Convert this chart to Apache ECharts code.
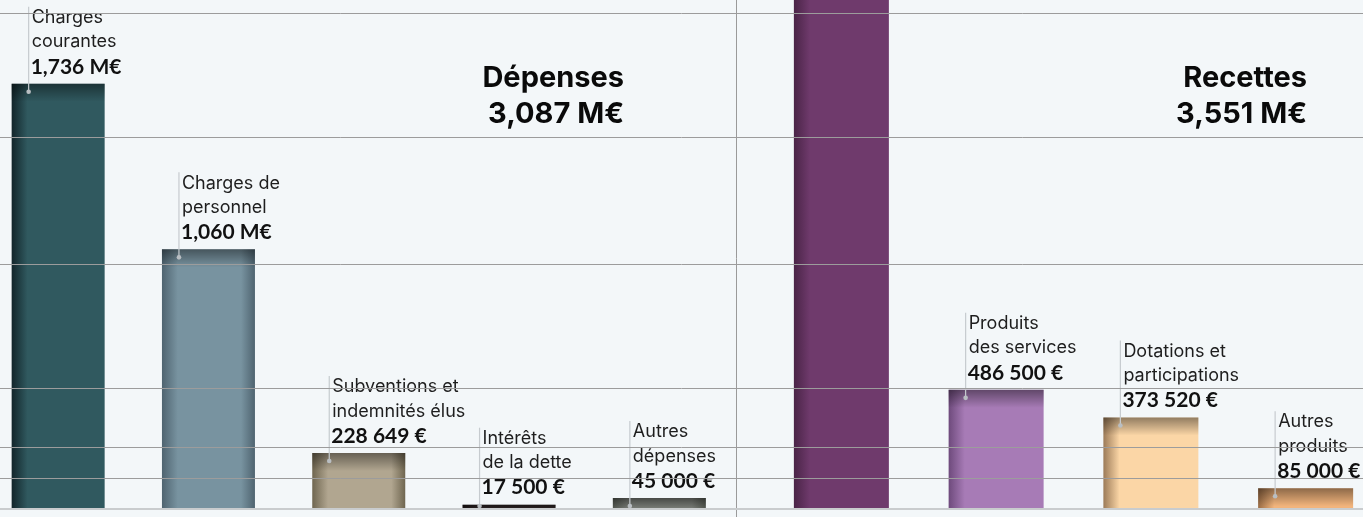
<!DOCTYPE html>
<html>
<head>
<meta charset="utf-8">
<script src="https://cdn.jsdelivr.net/npm/echarts@6/dist/echarts.min.js"></script>
<style>
html,body{margin:0;padding:0;background:#f3f7f9;}
#chart{width:1363px;height:517px;}
</style>
</head>
<body>
<div id="chart"></div>
<script>
// ---- data ----
const leftTitle = 'Dépenses';
const rightTitle = 'Recettes';
const leftCategories = ['Charges\ncourantes', 'Charges de\npersonnel', 'Subventions et\nindemnités élus', 'Intérêts\nde la dette', 'Autres\ndépenses'];
const leftValues = [1736000, 1060000, 228649, 17500, 45000];
const rightCategories = ['Impôts et\ntaxes', 'Produits\ndes services', 'Dotations et\nparticipations', 'Autres\nproduits'];
const rightValues = [2605980, 486500, 373520, 85000];
const rightTotal = 3551000;
const gridValues = [126000, 253000, 494000, 1000000, 1518000, 2024000];
const axisMax = 2078000;

// ---- styles ----
const leftBase = ['#30595f', '#7893a0', '#b1a690', '#2b2323', '#7b7f79'];
const leftEdge = ['#12252a', '#4f6470', '#6f6650', '#1a1414', '#555a52'];
const leftRightShade = [false, true, true, false, true];
const rightBase = ['#6f3a6c', '#a77bb6', '#fbd6a6', '#f2b47c'];
const rightEdge = ['#4a2447', '#6e4a7c', '#9c7b58', '#9a6c45'];
const rightRightShade = [false, false, false, false];

function fmt(v) {
  if (v >= 1e6) return (v / 1e6).toFixed(3).replace('.', ',') + ' M€';
  return String(Math.round(v)).replace(/\B(?=(\d{3})+(?!\d))/g, ' ') + ' €';
}
const leftTotal = leftValues.reduce((a, b) => a + b, 0);

function barData(values, base, edge, rshade) {
  return values.map((v, i) => {
    const stops = [{offset: 0, color: edge[i]}, {offset: 0.17, color: base[i]}];
    if (rshade[i]) {
      stops.push({offset: 0.85, color: base[i]});
      stops.push({offset: 1, color: edge[i]});
    } else {
      stops.push({offset: 1, color: base[i]});
    }
    return {value: v, itemStyle: {color: new echarts.graphic.LinearGradient(0, 0, 1, 0, stops)}};
  });
}

const LEFT_BW = 93, RIGHT_BW = 95;

function labelRender(cats, barW) {
  return function (params, api) {
    const v = api.value(1);
    if (v > axisMax) return {type: 'group', children: []};
    const p = api.coord([api.value(0), v]);
    const x = p[0] - barW / 2 + 17;
    const top = p[1];
    return {
      type: 'group',
      children: [
        {type: 'text', x: x + 3, y: top - 29.5, silent: true,
          style: {text: cats[params.dataIndex], fontFamily: 'Inter', fontSize: 18, fontWeight: 400,
            fill: '#1e1e1e', verticalAlign: 'bottom', align: 'left', lineHeight: 24.5}},
        {type: 'text', x: x + 2, y: top - 17, silent: true,
          style: {text: fmt(v), fontFamily: 'Lato', fontSize: 21, fontWeight: 700,
            fill: '#111', verticalAlign: 'middle', align: 'left'}}
      ]
    };
  };
}

function decorRender(barW) {
  return function (params, api) {
    const v = api.value(1);
    const p = api.coord([api.value(0), v]);
    const b = api.coord([api.value(0), 0]);
    const left = p[0] - barW / 2;
    const top = p[1];
    const h = b[1] - top;
    const children = [{
      type: 'rect', silent: true,
      shape: {x: left, y: top, width: barW, height: Math.min(18, h)},
      style: {fill: new echarts.graphic.LinearGradient(0, 0, 0, 1, [
        {offset: 0, color: 'rgba(0,0,0,0.42)'}, {offset: 1, color: 'rgba(0,0,0,0)'}])}
    }];
    if (v <= axisMax) {
      const x = left + 17;
      const dotY = Math.min(top + 8, b[1] - 3);
      children.push({type: 'line', silent: true,
        shape: {x1: x, y1: top - 77, x2: x, y2: dotY},
        style: {stroke: '#c6cbcf', lineWidth: 1.2}});
      children.push({type: 'circle', silent: true,
        shape: {cx: x, cy: dotY, r: 2.3},
        style: {fill: '#b9bec2'}});
    }
    return {type: 'group', children: children};
  };
}

const chart = echarts.init(document.getElementById('chart'), null, {renderer: 'canvas'});
const yAxisBase = {type: 'value', min: 0, max: axisMax, show: false, splitLine: {show: false}};

chart.setOption({
  backgroundColor: '#f3f7f9',
  animation: false,
  grid: [
    {left: 0, right: 0, top: 0, bottom: 8, outerBoundsMode: 'none'},
    {left: -17, width: 751.5, top: 0, bottom: 8, outerBoundsMode: 'none', containLabel: false},
    {left: 764, width: 619, top: 0, bottom: 8, outerBoundsMode: 'none', containLabel: false}
  ],
  xAxis: [
    {gridIndex: 0, type: 'value', min: 0, max: 1, show: false},
    {gridIndex: 1, type: 'category', data: leftCategories, show: false},
    {gridIndex: 2, type: 'category', data: rightCategories, show: false}
  ],
  yAxis: [
    Object.assign({gridIndex: 0}, yAxisBase),
    Object.assign({gridIndex: 1}, yAxisBase),
    Object.assign({gridIndex: 2}, yAxisBase)
  ],
  graphic: [
    {type: 'line', silent: true, z: 5, shape: {x1: 736.5, y1: 0, x2: 736.5, y2: 517},
      style: {stroke: '#9a9a9a', lineWidth: 1}},
    {type: 'text', silent: true, z: 5, x: 624, y: 96,
      style: {text: leftTitle + '\n' + fmt(leftTotal), fontFamily: 'Inter', fontSize: 29, fontWeight: 700,
        fill: '#0a0a0a', align: 'right', verticalAlign: 'middle', lineHeight: 36}},
    {type: 'text', silent: true, z: 5, x: 1307, y: 96,
      style: {text: rightTitle + '\n' + fmt(rightTotal), fontFamily: 'Inter', fontSize: 29, fontWeight: 700,
        fill: '#0a0a0a', align: 'right', verticalAlign: 'middle', lineHeight: 36}}
  ],
  series: [
    {type: 'line', xAxisIndex: 0, yAxisIndex: 0, z: 2, data: [[0, 0]], showSymbol: false, silent: true,
      lineStyle: {opacity: 0},
      markLine: {silent: true, symbol: 'none', label: {show: false}, animation: false,
        lineStyle: {color: '#9c9c9c', width: 1, type: 'solid'},
        data: gridValues.map(v => ({yAxis: v})).concat([{yAxis: 0, lineStyle: {color: '#c9ccce', width: 2, type: 'solid'}}])}},
    {type: 'custom', xAxisIndex: 1, yAxisIndex: 1, z: 1, renderItem: labelRender(leftCategories, LEFT_BW),
      data: leftValues.map((v, i) => [i, v])},
    {type: 'custom', xAxisIndex: 2, yAxisIndex: 2, z: 1, renderItem: labelRender(rightCategories, RIGHT_BW),
      data: rightValues.map((v, i) => [i, v])},
    {type: 'bar', xAxisIndex: 1, yAxisIndex: 1, z: 3, barWidth: LEFT_BW,
      data: barData(leftValues, leftBase, leftEdge, leftRightShade)},
    {type: 'bar', xAxisIndex: 2, yAxisIndex: 2, z: 3, barWidth: RIGHT_BW,
      data: barData(rightValues, rightBase, rightEdge, rightRightShade)},
    {type: 'custom', xAxisIndex: 1, yAxisIndex: 1, z: 4, renderItem: decorRender(LEFT_BW), clip: true,
      data: leftValues.map((v, i) => [i, v])},
    {type: 'custom', xAxisIndex: 2, yAxisIndex: 2, z: 4, renderItem: decorRender(RIGHT_BW), clip: true,
      data: rightValues.map((v, i) => [i, v])}
  ]
});
</script>
</body>
</html>
